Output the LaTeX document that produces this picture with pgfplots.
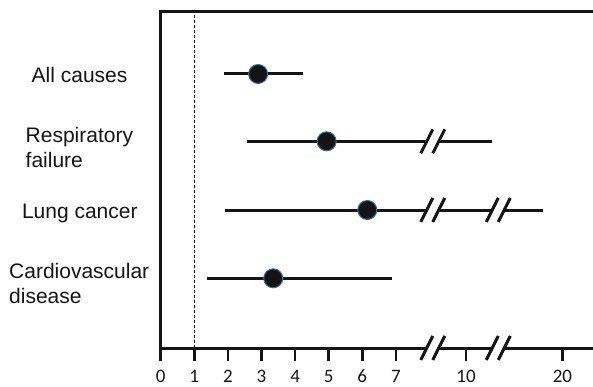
\documentclass[border=0pt]{standalone}
\usepackage{pgfplots}
\pgfplotsset{compat=1.18}
\usepackage{fontspec}
\setmainfont{Liberation Sans}
\newfontfamily\carlito{Carlito}
\definecolor{ink}{HTML}{141414}
\definecolor{rim}{HTML}{3D6E9E}
\pgfdeclareplotmark{axbreak}{%
  \pgfscope
  \pgfpathmoveto{\pgfqpoint{-7.75pt}{-3.8pt}}%
  \pgfpathlineto{\pgfqpoint{-4.1pt}{3.8pt}}%
  \pgfpathlineto{\pgfqpoint{7.75pt}{3.8pt}}%
  \pgfpathlineto{\pgfqpoint{4.1pt}{-3.8pt}}%
  \pgfpathclose
  \pgfsetfillcolor{white}%
  \pgfusepath{fill}%
  \endpgfscope
  \pgfpathmoveto{\pgfqpoint{-12pt}{-12pt}}%
  \pgfpathlineto{\pgfqpoint{0pt}{12pt}}%
  \pgfpathmoveto{\pgfqpoint{0pt}{-12pt}}%
  \pgfpathlineto{\pgfqpoint{12pt}{12pt}}%
  \pgfusepath{stroke}%
}
\begin{document}
\begin{tikzpicture}
\path[use as bounding box] (0,0) rectangle (593pt,386pt);
\begin{axis}[
  at={(160.7pt,38pt)}, anchor=south west,
  scale only axis, width=432.3pt, height=336pt,
  xmin=0, xmax=12.87, ymin=0, ymax=336,
  clip=false,
  axis x line*=bottom, axis y line=none,
  x axis line style={line width=3pt, ink, -},
  xtick={0,1,2,3,4,5,6,7,9.09,11.96},
  xticklabels={0,1,2,3,4,5,6,7,10,20},
  ytick=\empty,
  tick align=outside, major tick length=13pt,
  xtick style={line width=2.6pt, ink},
  /pgf/number format/assume math mode=true,
  xticklabel style={font=\carlito\fontsize{19}{20}\selectfont, text=ink, anchor=base, inner sep=0.5pt, yshift=-21.5pt},
  typeset ticklabels with strut=false,
]
% reference line at 1
\addplot[ink, line width=1.1pt, dash pattern=on 3pt off 2pt] coordinates {(1,0) (1,336)};
% confidence intervals
\addplot[ink, line width=3pt] coordinates {(1.88,274) (4.23,274)};
\addplot[ink, line width=3pt] coordinates {(2.56,206.7) (9.86,206.7)};
\addplot[ink, line width=3pt] coordinates {(1.91,138) (11.38,138)};
\addplot[ink, line width=3pt] coordinates {(1.39,69.7) (6.88,69.7)};
% axis breaks
\addplot[only marks, mark=axbreak, ink, line width=3pt] coordinates {(8.1,206.7) (8.1,138) (10.05,138) (8.1,0) (10.05,0)};
% point estimates
\addplot[only marks, mark=*, mark size=9.5pt, mark options={fill=ink, draw=rim, line width=1pt}] coordinates {(2.90,274) (4.94,206.7) (6.15,138) (3.35,69.7)};
% frame
\draw[ink, line width=3pt, line join=miter] (rel axis cs:0,0) -- (rel axis cs:0,1) -- (rel axis cs:1,1);
\end{axis}
\begin{scope}[every node/.style={anchor=base west, inner sep=0pt, font=\fontsize{21}{25}\selectfont, text=ink}]
\node at (31.5pt,303.5pt) {All causes};
\node at (25.5pt,243.5pt) {Respiratory};
\node at (25.5pt,218.5pt) {failure};
\node at (21.8pt,167.7pt) {Lung cancer};
\node at (9pt,107.7pt) {Cardiovascular};
\node at (9pt,82.7pt) {disease};
\end{scope}
\end{tikzpicture}
\end{document}
